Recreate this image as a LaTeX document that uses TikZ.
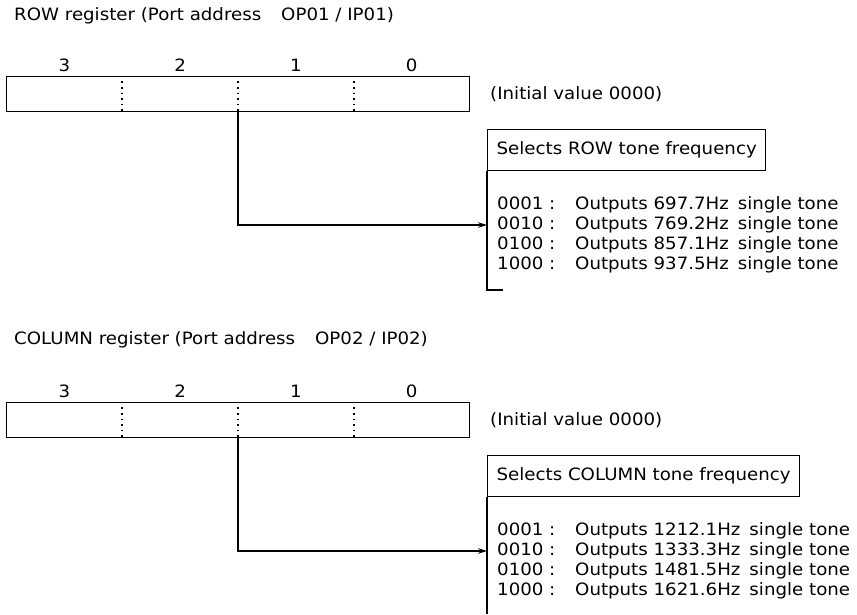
\documentclass[tikz,border=0pt]{standalone}
\usepackage{fontspec}
\setmainfont[FakeStretch=1.07]{DejaVu Sans}
\usetikzlibrary{arrows.meta,positioning,calc}
\tikzset{
  reg box/.style={draw,line width=1.6pt,minimum width=463pt,minimum height=35pt,inner sep=0pt},
  reg divider/.style={line width=1.6pt,dash pattern=on 1.6pt off 4pt},
  bit label/.style={inner sep=0pt},
  plain text/.style={anchor=west,inner sep=0pt},
  select box/.style={draw,line width=1.3pt,anchor=north west,minimum height=41pt,inner xsep=9pt},
  list line/.style={anchor=west,inner sep=0pt},
  select arrow/.style={-{Stealth[length=9pt,width=5.5pt]},line width=1.4pt},
  bracket line/.style={line width=1.4pt}
}
\newcommand{\codecol}[1]{\makebox[78pt][l]{#1}}

\begin{document}
\begin{tikzpicture}[x=1pt,y=-1pt,font=\fontsize{17}{20}\selectfont]
\useasboundingbox (0,0) rectangle (857,614);
% ROW register
\node[plain text] (rowtitle) at (14,16) {ROW register (Port address\hspace{20pt}OP01 / IP01)};
\node[reg box] (rowreg) at (238,94) {};
\foreach \x in {122.25,238,353.75}
  \draw[reg divider] (\x,0 |- rowreg.north) -- (\x,0 |- rowreg.south);
\foreach \b/\x in {3/64.4,2/180.1,1/295.9,0/411.6}
  \node[bit label] (rowbit\b) at (\x,65) {\b};
\node[plain text] (rowinit) at (490,94) {(Initial value 0000)};
\node[select box] (rowsel) at (487,129) {Selects ROW tone frequency};
\foreach \code/\freq [count=\i] in {0001/697.7,0010/769.2,0100/857.1,1000/937.5}
  \node[list line] (rowline\i) at (497,{185+20*\i}) {\codecol{\code\ :}Outputs \freq Hz\hspace{9pt}single tone};
\coordinate (rowend) at (487,290);
\draw[select arrow] (rowreg.south) |- (rowline2.west -| rowsel.west);
\draw[bracket line] (rowsel.south west) -- (rowend) -- ++(16,0);

% COLUMN register
\begin{scope}[yshift=-326pt]
\node[plain text] (coltitle) at (14,14) {COLUMN register (Port address\hspace{20pt}OP02 / IP02)};
\node[reg box] (colreg) at (238,94) {};
\foreach \x in {122.25,238,353.75}
  \draw[reg divider] (\x,0 |- colreg.north) -- (\x,0 |- colreg.south);
\foreach \b/\x in {3/64.4,2/180.1,1/295.9,0/411.6}
  \node[bit label] (colbit\b) at (\x,65) {\b};
\node[plain text] (colinit) at (490,94) {(Initial value 0000)};
\node[select box] (colsel) at (487,129) {Selects COLUMN tone frequency};
\foreach \code/\freq [count=\i] in {0001/1212.1,0010/1333.3,0100/1481.5,1000/1621.6}
  \node[list line] (colline\i) at (497,{185+20*\i}) {\codecol{\code\ :}Outputs \freq Hz\hspace{9pt}single tone};
\coordinate (colend) at (487,288);
\draw[select arrow] (colreg.south) |- (colline2.west -| colsel.west);
\draw[bracket line] (colsel.south west) -- (colend);
\end{scope}
\end{tikzpicture}
\end{document}
